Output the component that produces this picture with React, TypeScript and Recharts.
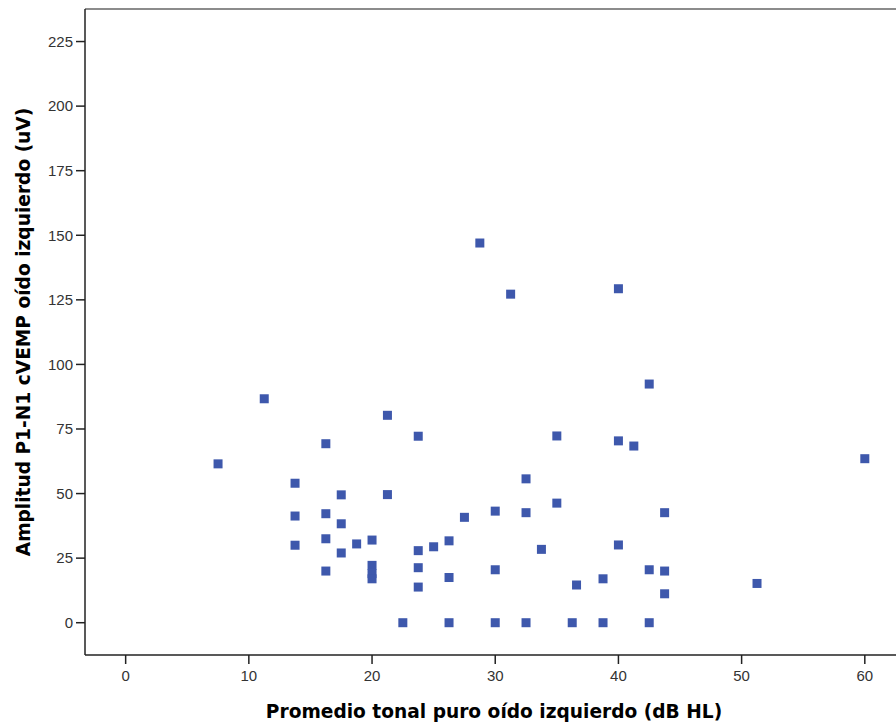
import { ScatterChart, Scatter, XAxis, YAxis, Label, ReferenceLine } from "recharts";

// Promedio tonal puro (dB HL) and amplitud P1-N1 (uV), one pair per patient
const hearingLoss = [
  7.5, 11.25, 13.75, 13.75, 13.75, 16.25, 16.25, 16.25, 16.25, 17.5, 17.5, 17.5,
  18.75, 20, 20, 20, 20, 21.25, 21.25, 22.5, 23.75, 23.75, 23.75, 23.75, 25,
  26.25, 26.25, 26.25, 27.5, 28.75, 30, 30, 30, 31.25, 32.5, 32.5, 32.5, 33.75,
  35, 35, 36.25, 36.6, 38.75, 38.75, 40, 40, 40, 41.25, 42.5, 42.5, 42.5,
  43.75, 43.75, 43.75, 51.25, 60,
];
const amplitude = [
  61.5, 86.7, 54, 41.3, 30, 69.3, 42.2, 32.5, 20, 49.5, 38.3, 27, 30.5, 32,
  22.2, 19, 17, 80.3, 49.6, 0, 72.2, 27.9, 21.3, 13.8, 29.4, 31.7, 17.5, 0,
  40.8, 147, 43.2, 20.5, 0, 127.2, 55.7, 42.6, 0, 28.4, 72.3, 46.3, 0, 14.6,
  17, 0, 129.3, 70.4, 30.1, 68.4, 92.4, 20.5, 0, 42.6, 20, 11.2, 15.2, 63.5,
];

const xTicks = [0, 10, 20, 30, 40, 50, 60];
const yTicks = [0, 25, 50, 75, 100, 125, 150, 175, 200, 225];
const xDomain = [-3.3, 63.1];
const yDomain = [-12.5, 237.6];

const xTitle = "Promedio tonal puro oído izquierdo (dB HL)";
const yTitle = "Amplitud P1-N1 cVEMP oído izquierdo (uV)";

const points = hearingLoss.map((x, i) => ({ x, y: amplitude[i] }));

const MARK = "#3e58ac";
const tickFont = { fontSize: 15, fontFamily: "Liberation Sans, Arial, sans-serif", fill: "#333" };
const titleFont = { fontSize: 18.6, fontFamily: "DejaVu Sans, Verdana, sans-serif", fontWeight: "bold", fill: "#000" };

const SquareDot = (props: any) => {
  const { cx, cy } = props;
  if (cx == null || cy == null) return null;
  return <rect x={cx - 4.5} y={cy - 4.5} width={9} height={9} fill={MARK} />;
};

const YTitle = (props: any) => {
  const { viewBox } = props;
  const cx = 29.5;
  const cy = viewBox.y + viewBox.height / 2;
  return (
    <text x={cx} y={cy} transform={`rotate(-90 ${cx} ${cy})`} textAnchor="middle" {...titleFont}>
      {yTitle}
    </text>
  );
};

export default function App() {
  return (
    <div style={{ position: "absolute", left: 0, top: 0, width: 896, height: 726, overflow: "hidden", background: "#fff" }}>
      <ScatterChart width={920} height={726} margin={{ top: 9, right: 17, bottom: 0, left: 0 }}>
        <XAxis
          type="number"
          dataKey="x"
          domain={xDomain}
          ticks={xTicks}
          height={71}
          tickSize={9}
          tickMargin={6}
          tick={tickFont}
          tickLine={{ stroke: "#222", strokeWidth: 1.5 }}
          axisLine={{ stroke: "#222", strokeWidth: 1.5 }}
          allowDataOverflow
        >
          <Label value={xTitle} position="insideBottom" offset={8} {...titleFont} />
        </XAxis>
        <YAxis
          type="number"
          dataKey="y"
          domain={yDomain}
          ticks={yTicks}
          width={85}
          tickSize={9}
          tickMargin={3}
          tick={tickFont}
          tickLine={{ stroke: "#222", strokeWidth: 1.5 }}
          axisLine={{ stroke: "#222", strokeWidth: 1.5 }}
          allowDataOverflow
          label={(p: any) => <YTitle {...p} />}
        />
        <ReferenceLine y={yDomain[1]} stroke="#8c8c8c" strokeWidth={2} ifOverflow="visible" />
        <Scatter data={points} shape={SquareDot} isAnimationActive={false} />
      </ScatterChart>
    </div>
  );
}
